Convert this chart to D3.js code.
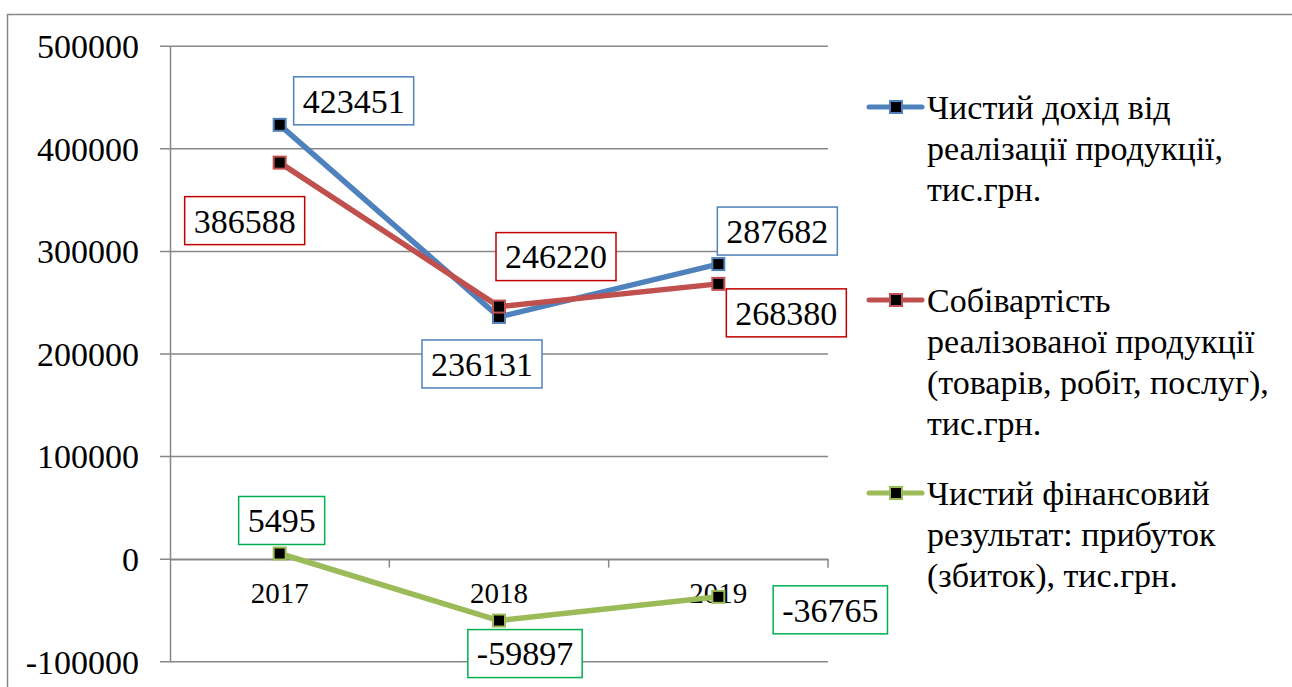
<!DOCTYPE html>
<html>
<head>
<meta charset="utf-8">
<script src="https://cdn.jsdelivr.net/npm/d3@7/dist/d3.min.js"></script>
<style>
  html, body { margin: 0; padding: 0; background: #ffffff; }
  svg { display: block; }
  #fontwarm { position: absolute; left: 0; top: 0; visibility: hidden; font-family: "Liberation Serif", "Times New Roman", serif; white-space: nowrap; }
</style>
</head>
<body>
<div id="fontwarm" aria-hidden="true"><span style="font-size:34px">0123456789-,.():ЧСабвгдзийклнопрстуцьіїє</span><span style="font-size:29px">0123456789</span></div>
<svg id="chart" width="1292" height="687"></svg>
<script>
// ---- data ----
const categories = ["2017", "2018", "2019"];
const revenue = [423451, 236131, 287682];
const cost = [386588, 246220, 268380];
const netResult = [5495, -59897, -36765];
const yTicks = [-100000, 0, 100000, 200000, 300000, 400000, 500000];
const legendRevenue = ["Чистий дохід від", "реалізації продукції,", "тис.грн."];
const legendCost = ["Собівартість", "реалізованої продукції", "(товарів, робіт, послуг),", "тис.грн."];
const legendResult = ["Чистий фінансовий", "результат: прибуток", "(збиток), тис.грн."];

// ---- styling / layout ----
const FONT = "Liberation Serif, Times New Roman, serif";
const series = [
  { values: revenue, legend: legendRevenue, color: "#4F81BD", box: "#4F81BD",
    offsets: [[74, -24], [-17, 47], [59, -33]] },
  { values: cost, legend: legendCost, color: "#C0504D", box: "#C00000",
    offsets: [[-35, 58], [57, -50], [68, 29]] },
  { values: netResult, legend: legendResult, color: "#9BBB59", box: "#00B050",
    offsets: [[2, -33], [26, 33], [112, 13]] }
];

const svg = d3.select("#chart");
const grid = "#878787";

function addText(parent, px, py, size, anchor, str) {
  return parent.append("text").attr("x", px).attr("y", py).attr("dy", "0.35em")
    .attr("text-anchor", anchor).attr("font-family", FONT).attr("font-size", size)
    .attr("fill", "#000").text(str);
}

// outer border
svg.append("path")
  .attr("d", "M7.5,700 L7.5,14.5 L1300,14.5")
  .attr("fill", "none").attr("stroke", grid).attr("stroke-width", 1.5);

const x = d3.scaleBand().domain(categories).range([170, 828]);
const y = d3.scaleLinear().domain([-100000, 500000]).range([661.7, 46.3]);
const cx = c => x(c) + x.bandwidth() / 2;

// gridlines
svg.append("g").selectAll("line").data(yTicks).join("line")
  .attr("x1", 160).attr("x2", 828)
  .attr("y1", d => y(d)).attr("y2", d => y(d))
  .attr("stroke", grid).attr("stroke-width", 1.5);

// y axis line
const yAxis = svg.append("g").attr("transform", "translate(170,0)")
  .call(d3.axisLeft(y).tickValues(yTicks).tickSize(0).tickFormat(""));
yAxis.select(".domain").attr("stroke", grid).attr("stroke-width", 1.5);
// y tick labels
const yLab = svg.append("g");
yTicks.forEach(d => addText(yLab, 139, y(d), 34, "end", String(d)));

// x axis at zero
const xAxis = svg.append("g").attr("transform", `translate(0,${y(0)})`)
  .call(d3.axisBottom(x).tickSize(0).tickFormat(""));
xAxis.select(".domain").attr("stroke", grid).attr("stroke-width", 1.5);
const xLab = svg.append("g");
categories.forEach(c => addText(xLab, cx(c), y(0) + 34, 29, "middle", c));
// category boundary ticks
const bounds = categories.slice(1).map(c => x(c)).concat([x(categories[categories.length - 1]) + x.bandwidth()]);
svg.append("g").selectAll("line").data(bounds).join("line")
  .attr("x1", d => d).attr("x2", d => d)
  .attr("y1", y(0)).attr("y2", y(0) + 8.5)
  .attr("stroke", grid).attr("stroke-width", 1.5);

// lines
const lineGen = d3.line().x((d, i) => cx(categories[i])).y(d => y(d));
series.forEach(s => {
  svg.append("path").datum(s.values)
    .attr("d", lineGen)
    .attr("fill", "none").attr("stroke", s.color).attr("stroke-width", 5.5)
    .attr("stroke-linejoin", "round").attr("stroke-linecap", "round");
  svg.append("g").selectAll("rect").data(s.values).join("rect")
    .attr("x", (d, i) => cx(categories[i]) - 6).attr("y", d => y(d) - 6)
    .attr("width", 12).attr("height", 12)
    .attr("fill", "#000").attr("stroke", s.color).attr("stroke-width", 2);
});

// data labels
series.forEach(s => {
  s.values.forEach((v, i) => {
    const px = cx(categories[i]) + s.offsets[i][0];
    const py = y(v) + s.offsets[i][1];
    const g = svg.append("g");
    const t = addText(g, px, py, 34, "middle", String(v));
    const w = t.node().getComputedTextLength() + 18;
    g.insert("rect", "text")
      .attr("x", px - w / 2).attr("y", py - 24).attr("width", w).attr("height", 48)
      .attr("fill", "#fff").attr("stroke", s.box).attr("stroke-width", 1.5);
  });
});

// legend
const legendY = [107, 300, 493];
series.forEach((s, k) => {
  const ly = legendY[k];
  svg.append("line").attr("x1", 869).attr("x2", 922).attr("y1", ly).attr("y2", ly)
    .attr("stroke", s.color).attr("stroke-width", 5).attr("stroke-linecap", "round");
  svg.append("rect").attr("x", 890).attr("y", ly - 6).attr("width", 12).attr("height", 12)
    .attr("fill", "#000").attr("stroke", s.color).attr("stroke-width", 2);
  s.legend.forEach((line, j) => addText(svg, 927, ly + j * 41, 34, "start", line));
});
</script>
</body>
</html>
